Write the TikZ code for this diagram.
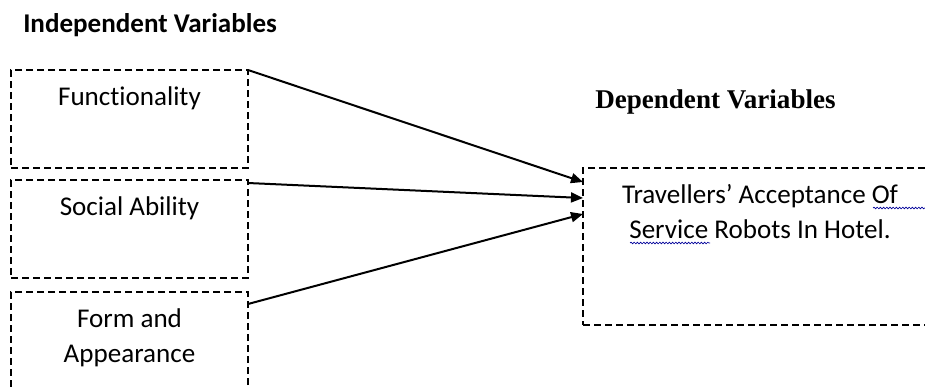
\documentclass[tikz,border=0pt]{standalone}
\usepackage{fontspec}
\setmainfont{Carlito}[Ligatures=NoCommon]
\newfontfamily\serifhead{Liberation Serif}
\usetikzlibrary{arrows.meta,positioning,calc,decorations.pathmorphing}

\begin{document}
\begin{tikzpicture}[
  x=0.75pt,y=-0.75pt,
  varbox/.style={draw=black,line width=1.5pt,dash pattern=on 5.25pt off 3pt,
    rectangle,minimum width=177.75pt,minimum height=73.5pt,
    inner sep=0pt,outer sep=0pt},
  lbl/.style={font=\fontsize{20.3}{26.25}\selectfont,inner sep=0pt,align=center},
  head/.style={font=\fontsize{20.3}{24}\selectfont\bfseries,inner sep=0pt},
  arrow/.style={-{Triangle[length=9pt,width=7.5pt]},draw=black,line width=1.5pt},
  spell/.style={draw=blue!60!black,line width=0.5pt,decorate,
    decoration={snake,amplitude=0.6pt,segment length=2.4pt}}
]
  \useasboundingbox (0,0) rectangle (925,387);

  % independent side
  \node[varbox] (f) at (129.5,119) {};
  \node[varbox,below=9pt of f] (s) {};
  \node[varbox,below=10.5pt of s,minimum height=90pt] (a) {};
  \node[lbl,anchor=base] (ftxt) at ($(f.north)+(0,35)$) {Functionality};
  \node[lbl,anchor=base] (stxt) at ($(s.north)+(0,35)$) {Social Ability};
  % base of a two-line node is its last line
  \node[lbl,anchor=base] (atxt) at ($(a.north)+(0,70)$) {Form and\\Appearance};
  \node[head,anchor=base west] (iv) at ($(f.north west)+(12,-38)$) {Independent Variables};

  % dependent side
  \node[varbox,minimum width=312.75pt,minimum height=117.75pt] (d) at (791.5,246.5) {};
  \node[lbl,anchor=base] (dtxt) at ($(d.north west)+(177,70)$)
    {Travellers’ Acceptance Of\\Service Robots In Hotel.};
  \node[head,font=\fontsize{20.3}{24}\selectfont\serifhead\bfseries,anchor=base west] (dv)
    at ($(d.north west)+(12,-60)$) {Dependent Variables};

  \coordinate (out2) at ($(s.north east)+(0,3)$);
  \coordinate (out3) at ($(a.north east)+(0,12)$);
  \coordinate (in1) at ($(d.north west)+(0,14)$);
  \coordinate (in2) at ($(d.north west)+(0,30)$);
  \coordinate (in3) at ($(d.north west)+(0,46)$);
  \draw[arrow] (f.north east) -- (in1);
  \draw[arrow] (out2) -- (in2);
  \draw[arrow] (out3) -- (in3);

  \draw[spell] (873,208) -- (925,208);
  \draw[spell] (630,243) -- (710,243);
\end{tikzpicture}
\end{document}
